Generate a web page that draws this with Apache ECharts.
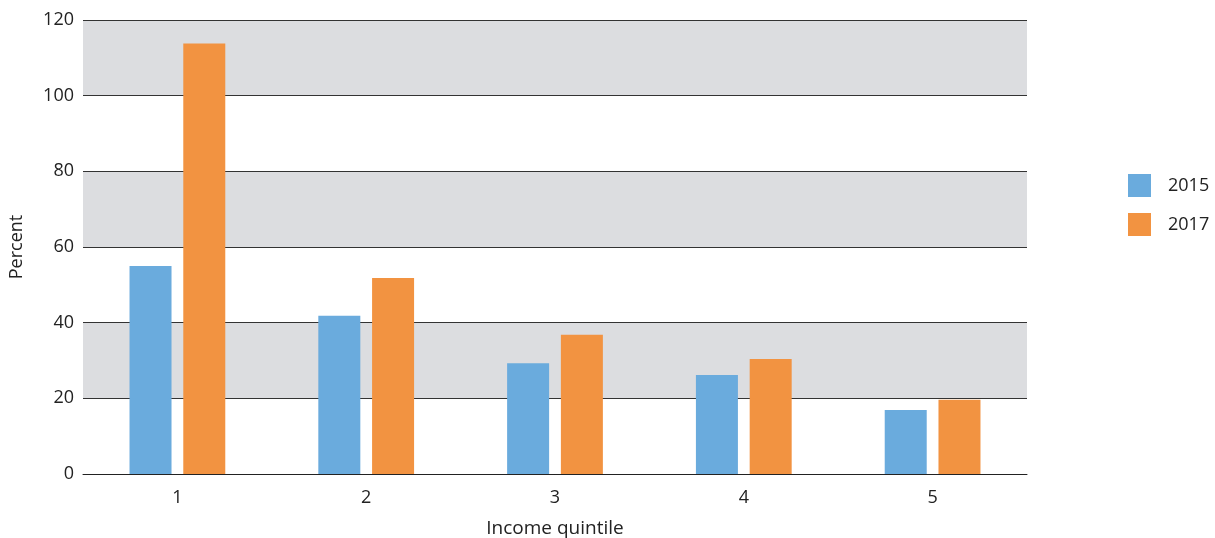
<!DOCTYPE html>
<html>
<head>
<meta charset="utf-8">
<script src="https://cdn.jsdelivr.net/npm/echarts@6/dist/echarts.min.js"></script>
<style>html,body{margin:0;padding:0;background:#fff}#c{width:1215px;height:538px}</style>
</head>
<body>
<div id="c"></div>
<script>
var categories = ['1', '2', '3', '4', '5'];
var series2015 = [55.0, 41.8, 29.3, 26.2, 16.9];
var series2017 = [113.8, 51.8, 36.8, 30.4, 19.6];
var yTicks = [0, 20, 40, 60, 80, 100, 120];

var chart = echarts.init(document.getElementById('c'));
var font = '"Open Sans", "Noto Sans", sans-serif';
chart.setOption({
  animation: false,
  textStyle: { fontFamily: font },
  grid: { left: 83, right: 188, top: 20, bottom: 64, containLabel: false, outerBoundsMode: 'none' },
  legend: {
    orient: 'vertical',
    left: 1123,
    top: 169,
    itemWidth: 23,
    itemHeight: 23,
    itemGap: 16,
    icon: 'rect',
    textStyle: { fontSize: 18, color: '#222', fontFamily: font, padding: [0, 0, 0, 12] },
    data: ['2015', '2017']
  },
  xAxis: {
    type: 'category',
    data: categories,
    name: 'Income quintile',
    nameLocation: 'middle',
    nameGap: 45,
    nameTextStyle: { fontSize: 19, color: '#222' },
    axisLine: { lineStyle: { color: '#222', width: 1 } },
    axisTick: { show: false },
    axisLabel: { fontSize: 18, color: '#222', margin: 15 }
  },
  yAxis: {
    type: 'value',
    min: 0,
    max: 120,
    interval: 20,
    name: 'Percent',
    nameLocation: 'middle',
    nameGap: 57,
    nameTextStyle: { fontSize: 18, color: '#222' },
    axisLine: { show: false },
    axisTick: { show: false },
    axisLabel: { fontSize: 18, color: '#222', margin: 9,
      formatter: function (v) { return yTicks.indexOf(v) >= 0 ? String(v) : ''; } },
    splitLine: { lineStyle: { color: '#333', width: 1 } },
    splitArea: { show: true, areaStyle: { color: ['#ffffff', '#dcdde0'] } }
  },
  series: [
    { name: '2015', type: 'bar', data: series2015, barWidth: 42, barGap: '28%',
      itemStyle: { color: '#6aabdd' } },
    { name: '2017', type: 'bar', data: series2017, barWidth: 42,
      itemStyle: { color: '#f29341' } }
  ]
});
</script>
</body>
</html>
